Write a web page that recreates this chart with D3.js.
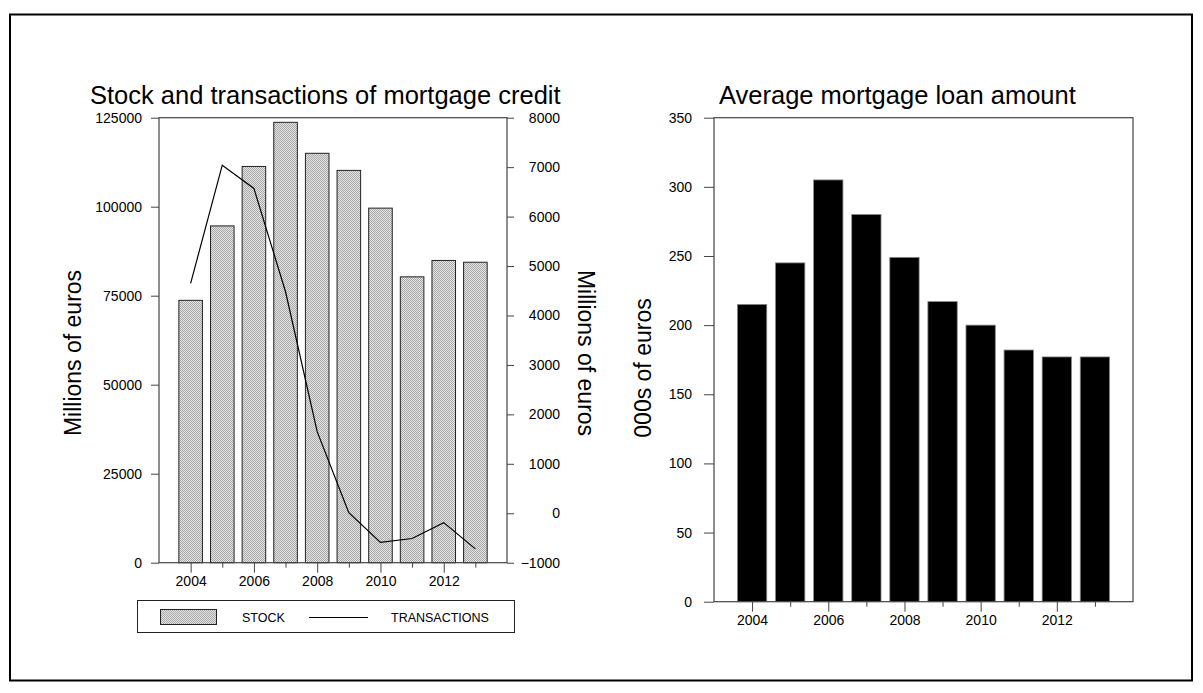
<!DOCTYPE html>
<html>
<head>
<meta charset="utf-8">
<script src="https://cdn.jsdelivr.net/npm/d3@7"></script>
<style>
  body { margin: 0; background: #fff; }
  svg text { font-family: "Liberation Sans", Arial, sans-serif; fill: #000; }
</style>
</head>
<body>
<div id="chart"></div>
<script>
// DATA
var years = [2004, 2005, 2006, 2007, 2008, 2009, 2010, 2011, 2012, 2013]
var stock = [73700, 94600, 111300, 123700, 115000, 110200, 99600, 80300, 84900, 84400]
var transactions = [4650, 7040, 6570, 4480, 1650, 10, -590, -510, -190, -720]
var avgLoan = [215, 245, 305, 280, 249, 217, 200, 182, 177, 177]

var yearTicks = [2004, 2006, 2008, 2010, 2012]
var minorYearTicks = [2005, 2007, 2009, 2011, 2013]
var stockTicks = [0, 25000, 50000, 75000, 100000, 125000]
var transTicks = [-1000, 0, 1000, 2000, 3000, 4000, 5000, 6000, 7000, 8000]
var loanTicks = [0, 50, 100, 150, 200, 250, 300, 350]

var W = 1203, H = 693
var axisColor = '#444'

var svg = d3.select('#chart').append('svg')
  .attr('width', W)
  .attr('height', H)

// outer frame
svg.append('rect')
  .attr('x', 10).attr('y', 14.5)
  .attr('width', 1182).attr('height', 666)
  .attr('fill', 'none')
  .attr('stroke', '#000')
  .attr('stroke-width', 2)

// hatch-like dither pattern for stock bars
var defs = svg.append('defs')
var pat = defs.append('pattern')
  .attr('id', 'dither')
  .attr('patternUnits', 'userSpaceOnUse')
  .attr('width', 2).attr('height', 2)
pat.append('rect').attr('width', 2).attr('height', 2).attr('fill', '#e4e4e4')
pat.append('rect').attr('width', 1).attr('height', 1).attr('fill', '#a8a8a8')
pat.append('rect').attr('x', 1).attr('y', 1).attr('width', 1).attr('height', 1).attr('fill', '#a8a8a8')

function styleAxis(g, fontSize) {
  g.select('.domain').remove()
  g.selectAll('line').attr('stroke', axisColor)
  g.selectAll('text').style('font-size', fontSize + 'px').attr('fill', '#000')
}

function xAxes(g, x, yBase) {
  g.append('g')
    .attr('transform', 'translate(0,' + yBase + ')')
    .call(d3.axisBottom(x).tickValues(yearTicks).tickFormat(d3.format('d')).tickSize(10).tickPadding(3))
    .call(a => styleAxis(a, 14))
  g.append('g')
    .attr('transform', 'translate(0,' + yBase + ')')
    .call(d3.axisBottom(x).tickValues(minorYearTicks).tickFormat('').tickSize(5))
    .call(a => styleAxis(a, 14))
}

// ---------- LEFT CHART ----------
var L = { left: 159, right: 507, top: 117.7, bottom: 562.7 }

var xL = d3.scaleLinear().domain([2003, 2014]).range([L.left, L.right])
var yStock = d3.scaleLinear().domain([0, 125000]).range([L.bottom, L.top])
var yTrans = d3.scaleLinear().domain([-1000, 8000]).range([L.bottom, L.top])

var left = svg.append('g')

left.selectAll('.stock-bar')
  .data(years)
  .enter().append('rect')
    .attr('class', 'stock-bar')
    .attr('x', d => xL(d - 0.372))
    .attr('width', xL(2003.745) - xL(2003))
    .attr('y', (d, i) => yStock(stock[i]))
    .attr('height', (d, i) => yStock(0) - yStock(stock[i]))
    .attr('fill', 'url(#dither)')
    .attr('stroke', '#222')
    .attr('stroke-width', 1)

var line = d3.line()
  .x((d, i) => xL(years[i]))
  .y(d => yTrans(d))

left.append('path')
  .datum(transactions)
  .attr('d', line)
  .attr('fill', 'none')
  .attr('stroke', '#000')
  .attr('stroke-width', 1.2)

// frame
left.append('rect')
  .attr('x', L.left).attr('y', L.top)
  .attr('width', L.right - L.left).attr('height', L.bottom - L.top)
  .attr('fill', 'none').attr('stroke', axisColor).attr('stroke-width', 1.2)

left.append('g')
  .attr('transform', 'translate(' + L.left + ',0)')
  .call(d3.axisLeft(yStock).tickValues(stockTicks).tickFormat(d3.format('d')).tickSize(8).tickPadding(9))
  .call(a => styleAxis(a, 14))

left.append('g')
  .attr('transform', 'translate(' + L.right + ',0)')
  .call(d3.axisRight(yTrans).tickValues(transTicks).tickFormat(d3.format('d')).tickSize(7))
  .call(a => {
    styleAxis(a, 14)
    a.selectAll('text').attr('text-anchor', 'end').attr('x', 53)
  })

xAxes(left, xL, L.bottom)

left.append('text')
  .attr('x', 90).attr('y', 104)
  .style('font-size', '25.5px')
  .text('Stock and transactions of mortgage credit')

left.append('text')
  .attr('transform', 'translate(81,353) rotate(-90)')
  .attr('text-anchor', 'middle')
  .style('font-size', '23px')
  .text('Millions of euros')

left.append('text')
  .attr('transform', 'translate(578,353) rotate(90)')
  .attr('text-anchor', 'middle')
  .style('font-size', '23px')
  .text('Millions of euros')

// legend
var legend = left.append('g')
legend.append('rect')
  .attr('x', 137.5).attr('y', 600.5)
  .attr('width', 377).attr('height', 32)
  .attr('fill', '#fff').attr('stroke', '#222')
legend.append('rect')
  .attr('x', 160.5).attr('y', 609.5)
  .attr('width', 56).attr('height', 15)
  .attr('fill', 'url(#dither)').attr('stroke', '#222')
legend.append('text')
  .attr('x', 242).attr('y', 621.5)
  .style('font-size', '12.5px')
  .text('STOCK')
legend.append('line')
  .attr('x1', 309).attr('x2', 368)
  .attr('y1', 617.5).attr('y2', 617.5)
  .attr('stroke', '#000').attr('stroke-width', 1.2)
legend.append('text')
  .attr('x', 391).attr('y', 621.5)
  .style('font-size', '12.5px')
  .text('TRANSACTIONS')

// ---------- RIGHT CHART ----------
var R = { left: 714, right: 1133, top: 117.7, bottom: 601.7 }

var xR = d3.scaleLinear().domain([2003, 2014]).range([R.left, R.right])
var yLoan = d3.scaleLinear().domain([0, 350]).range([R.bottom, R.top])

var right = svg.append('g')

right.selectAll('.loan-bar')
  .data(years)
  .enter().append('rect')
    .attr('class', 'loan-bar')
    .attr('x', d => xR(d - 0.385))
    .attr('width', xR(2003.77) - xR(2003))
    .attr('y', (d, i) => yLoan(avgLoan[i]))
    .attr('height', (d, i) => yLoan(0) - yLoan(avgLoan[i]))
    .attr('fill', '#000')
    .attr('stroke', '#888')
    .attr('stroke-width', 0.8)

right.append('rect')
  .attr('x', R.left).attr('y', R.top)
  .attr('width', R.right - R.left).attr('height', R.bottom - R.top)
  .attr('fill', 'none').attr('stroke', axisColor).attr('stroke-width', 1.2)

right.append('g')
  .attr('transform', 'translate(' + R.left + ',0)')
  .call(d3.axisLeft(yLoan).tickValues(loanTicks).tickFormat(d3.format('d')).tickSize(10).tickPadding(12))
  .call(a => styleAxis(a, 14))

xAxes(right, xR, R.bottom)

right.append('text')
  .attr('x', 719).attr('y', 104)
  .style('font-size', '25.5px')
  .text('Average mortgage loan amount')

right.append('text')
  .attr('transform', 'translate(651,368) rotate(-90)')
  .attr('text-anchor', 'middle')
  .style('font-size', '23px')
  .text('000s of euros')
</script>
</body>
</html>
